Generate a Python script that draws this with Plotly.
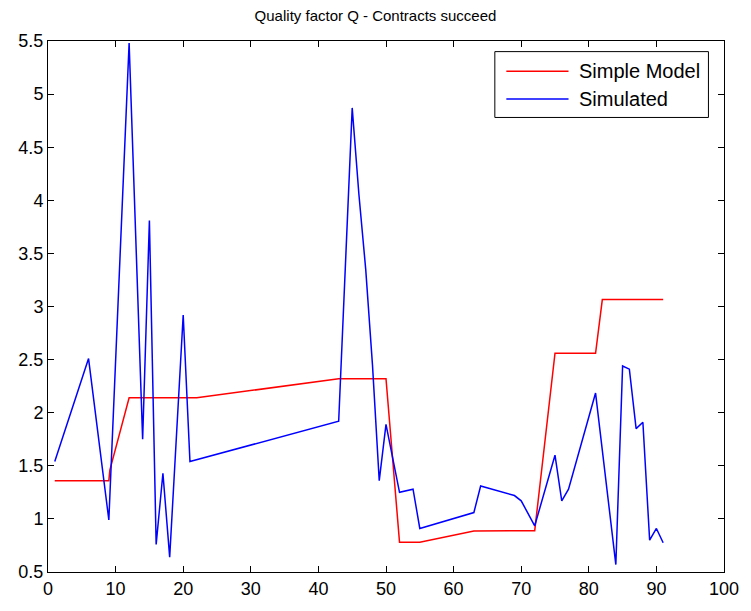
import plotly.graph_objects as go

# Simple model prediction of Q
model_x = [1, 9, 9.15, 12, 22, 43, 50, 52, 55, 63, 72, 75, 81, 82, 91]
model_q = [1.36, 1.36, 1.46, 2.14, 2.14, 2.32, 2.32, 0.78, 0.78, 0.886, 0.889, 2.56, 2.56, 3.065, 3.065]

# Simulated Q
sim_x = [1, 6, 9, 12, 14, 15, 16, 17, 18, 20, 21, 43, 45, 46, 47, 48, 49, 50, 52, 54, 55,
         63, 64, 69, 70, 72, 75, 76, 77, 81, 84, 85, 86, 87, 88, 89, 90, 91]
sim_q = [1.54, 2.51, 0.99, 5.48, 1.75, 3.81, 0.76, 1.43, 0.64, 2.92, 1.54, 1.92, 4.87, 4.05,
         3.35, 2.45, 1.36, 1.89, 1.25, 1.28, 0.91, 1.06, 1.31, 1.22, 1.17, 0.935, 1.60, 1.17,
         1.28, 2.185, 0.57, 2.44, 2.41, 1.85, 1.91, 0.80, 0.91, 0.775]

series_names = ["Simple Model", "Simulated"]
series_colors = ["#ff0000", "#0000ff"]

x_ticks = list(range(0, 101, 10))
y_ticks = [0.5 * k for k in range(1, 12)]
y_tick_text = ["0.5", "1", "1.5", "2", "2.5", "3", "3.5", "4", "4.5", "5", "5.5"]

FONT = "Liberation Sans, Arial, sans-serif"

fig = go.Figure()
fig.add_trace(go.Scatter(x=model_x, y=model_q, mode="lines", name=series_names[0],
                         line=dict(color=series_colors[0], width=1.5)))
fig.add_trace(go.Scatter(x=sim_x, y=sim_q, mode="lines", name=series_names[1],
                         line=dict(color=series_colors[1], width=1.5)))

axis_style = dict(showline=True, linecolor="black", linewidth=1, mirror="ticks",
                  ticks="inside", ticklen=6, tickcolor="black", tickwidth=1,
                  showgrid=False, zeroline=False,
                  tickfont=dict(family=FONT, size=18, color="black"))

fig.update_xaxes(range=[0, 100], tickmode="array", tickvals=x_ticks, **axis_style)
fig.update_yaxes(range=[0.5, 5.5], tickmode="array", tickvals=y_ticks,
                 ticktext=y_tick_text, **axis_style)

# Boxed legend in the upper right corner of the axes
lx0, lx1, ly0, ly1 = 0.661, 0.977, 0.856, 0.980
shapes = [dict(type="rect", xref="paper", yref="paper", x0=lx0, x1=lx1, y0=ly0, y1=ly1,
               line=dict(color="black", width=1), fillcolor="white", layer="above")]
annotations = []
for i, (name, color) in enumerate(zip(series_names, series_colors)):
    yy = 0.943 - i * 0.052
    shapes.append(dict(type="line", xref="paper", yref="paper", x0=0.678, x1=0.770,
                       y0=yy, y1=yy, line=dict(color=color, width=1.5), layer="above"))
    annotations.append(dict(xref="paper", yref="paper", x=0.782, y=yy, xanchor="left",
                            yanchor="middle", text=name, showarrow=False,
                            font=dict(family=FONT, size=20, color="black")))

fig.update_layout(
    width=751, height=611,
    margin=dict(l=48, r=16, t=41, b=29),
    plot_bgcolor="white", paper_bgcolor="white",
    showlegend=False,
    font=dict(family=FONT, color="black"),
    title=dict(text="Quality factor Q - Contracts succeed", x=0.5, xanchor="center",
               xref="container", y=0.975, yanchor="middle", yref="container",
               font=dict(family=FONT, size=15, color="black")),
    shapes=shapes,
    annotations=annotations,
)

fig.write_html("out.html")
